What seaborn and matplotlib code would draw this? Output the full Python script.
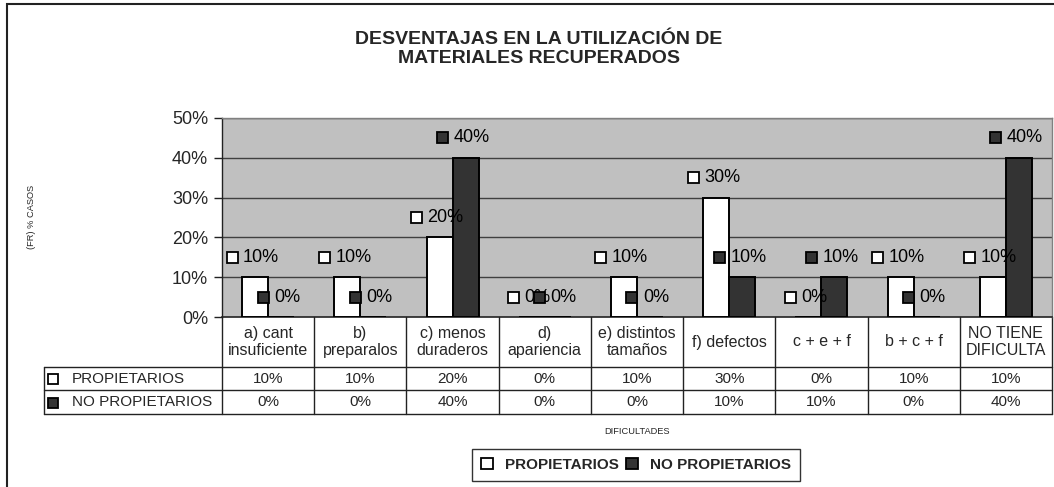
import matplotlib
matplotlib.use("Agg")
import matplotlib.pyplot as plt
import matplotlib.transforms as mtransforms
from matplotlib.patches import Patch, Rectangle
from matplotlib.lines import Line2D
import seaborn as sns
import pandas as pd

CATEGORIAS = [
    "a) cant\ninsuficiente", "b)\npreparalos", "c) menos\nduraderos", "d)\napariencia",
    "e) distintos\ntamaños", "f) defectos", "c + e + f", "b + c + f", "NO TIENE\nDIFICULTA",
]
GRUPOS = ["PROPIETARIOS", "NO PROPIETARIOS"]
PROPIETARIOS = [0.10, 0.10, 0.20, 0.00, 0.10, 0.30, 0.00, 0.10, 0.10]
NO_PROPIETARIOS = [0.00, 0.00, 0.40, 0.00, 0.00, 0.10, 0.10, 0.00, 0.40]
Y_TICKS = [0.0, 0.1, 0.2, 0.3, 0.4, 0.5]

COLORES = ["#ffffff", "#333333"]
W, H = 1054, 487

sns.set_theme(style="white")
plt.rcParams["font.family"] = ["Liberation Sans", "DejaVu Sans"]

df = pd.DataFrame({
    "dificultad": CATEGORIAS * 2,
    "grupo": [GRUPOS[0]] * len(CATEGORIAS) + [GRUPOS[1]] * len(CATEGORIAS),
    "valor": PROPIETARIOS + NO_PROPIETARIOS,
})

fig = plt.figure(figsize=(W / 100, H / 100), dpi=100)
fig.patch.set_facecolor("white")


def fx(px):
    return px / W


def fy(py):
    return 1 - py / H


# plot area in pixels
L, R, T, B = 222, 1052, 118, 317
ax = fig.add_axes([fx(L), fy(B), fx(R - L), (B - T) / H])
ax.set_facecolor("#c0c0c0")

sns.barplot(data=df, x="dificultad", y="valor", hue="grupo", palette=COLORES,
            edgecolor="black", linewidth=1.4, width=0.565, gap=0,
            errorbar=None, legend=False, ax=ax, zorder=3)

ax.set_xlim(-0.5, len(CATEGORIAS) - 0.5)
ax.set_ylim(0, 0.5)
ax.set_yticks(Y_TICKS)
ax.set_yticklabels([f"{v:.0%}" for v in Y_TICKS], fontsize=13)
ax.set_xticks([])
ax.set_xlabel("")
ax.set_ylabel("")
ax.tick_params(axis="y", direction="out", length=6, width=1, color="#222222",
               pad=4, left=True)
for v in Y_TICKS[1:]:
    ax.axhline(v, color="#404040", lw=1, zorder=1)
for s in ["top", "right"]:
    ax.spines[s].set_color("#808080")
    ax.spines[s].set_linewidth(1)
ax.spines["left"].set_color("#222222")
ax.spines["bottom"].set_color("#222222")
ax.spines["left"].set_linewidth(1)
ax.spines["bottom"].set_linewidth(1.2)

# data labels with legend keys
fig.canvas.draw()
renderer = fig.canvas.get_renderer()
for cont, color in zip(ax.containers, COLORES):
    for bar in cont:
        xc = bar.get_x() + bar.get_width() / 2
        val = bar.get_height()
        off = mtransforms.offset_copy(ax.transData, fig=fig, x=6, y=0, units="dots")
        t = ax.text(xc, val + 0.05, f"{val:.0%}", transform=off, ha="center",
                    va="center", fontsize=13, color="black", zorder=5)
        bb = t.get_window_extent(renderer=renderer)
        sx, sy = bb.x0 - 11, ax.transData.transform((xc, val + 0.05))[1]
        fig.add_artist(Rectangle((sx - 5.5, sy - 5.5), 11, 11,
                                 transform=mtransforms.IdentityTransform(),
                                 facecolor=color, edgecolor="black", lw=1.3,
                                 zorder=6))

# data table under the chart (x in data units, y in axes units)
tr = mtransforms.blended_transform_factory(ax.transData, ax.transAxes)


def ya(py):
    return -(py - B) / (B - T)


x_left = (44 - L) / ((R - L) / len(CATEGORIAS)) - 0.5
x_right = len(CATEGORIAS) - 0.5
row_lines = [367, 390, 414]
for py in row_lines:
    ax.add_line(Line2D([x_left, x_right], [ya(py), ya(py)], transform=tr,
                       color="#222222", lw=1, clip_on=False))
for i in range(len(CATEGORIAS) + 1):
    xb = i - 0.5
    ax.add_line(Line2D([xb, xb], [0, ya(414)], transform=tr,
                       color="#222222", lw=1, clip_on=False))
ax.add_line(Line2D([x_left, x_left], [ya(367), ya(414)], transform=tr,
                   color="#222222", lw=1, clip_on=False))

for i, cat in enumerate(CATEGORIAS):
    ax.text(i, ya(342), cat, transform=tr, ha="center", va="center",
            fontsize=11.5, linespacing=1.2, clip_on=False)
    ax.text(i, ya(379), f"{PROPIETARIOS[i]:.0%}", transform=tr, ha="center",
            va="center", fontsize=11, clip_on=False)
    ax.text(i, ya(402.5), f"{NO_PROPIETARIOS[i]:.0%}", transform=tr, ha="center",
            va="center", fontsize=11, clip_on=False)

for py, nombre, color in zip([379, 402.5], GRUPOS, COLORES):
    fig.add_artist(Rectangle((fx(48), fy(py) - 5 / H), 10 / W, 10 / H,
                             transform=fig.transFigure, facecolor=color,
                             edgecolor="black", lw=1.3))
    fig.text(fx(72), fy(py), nombre, ha="left", va="center", fontsize=11)

# titles and axis captions
fig.text(fx(539), fy(49), "DESVENTAJAS EN LA UTILIZACIÓN DE\nMATERIALES RECUPERADOS",
         ha="center", va="center", fontsize=14, fontweight="bold", linespacing=1.15)
fig.text(fx(31), fy(217), "(FR) % CASOS", rotation=90, ha="center", va="center",
         fontsize=6.7)
fig.text(fx(637), fy(431), "DIFICULTADES", ha="center", va="center", fontsize=6.7)

handles = [Patch(facecolor=c, edgecolor="black", lw=1.3) for c in COLORES]
leg = fig.legend(handles, GRUPOS, ncol=2, loc="center",
                 bbox_to_anchor=(fx(636), fy(465)), frameon=True, fancybox=False,
                 edgecolor="black", prop={"weight": "bold", "size": 11},
                 handlelength=0.75, handleheight=0.75, handletextpad=0.8,
                 columnspacing=0.5, borderpad=0.6)
leg.get_frame().set_linewidth(1)

# outer chart frame
fig.add_artist(Rectangle((fx(7), fy(H + 10)), fx(W), (H + 10 - 4) / H,
                         transform=fig.transFigure, fill=False,
                         edgecolor="#222222", lw=1.5))

fig.savefig("out.png", dpi=100)
